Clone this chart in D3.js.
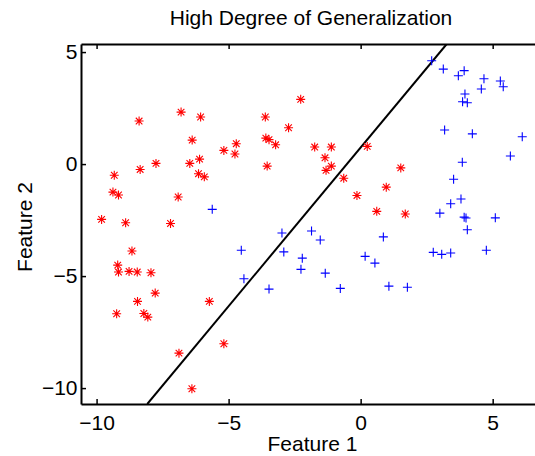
<!DOCTYPE html>
<html>
<head>
<meta charset="utf-8">
<script src="https://cdn.jsdelivr.net/npm/d3@7"></script>
<style>
  body { margin: 0; background: #fff; }
  text { font-family: 'Liberation Sans', Arial, sans-serif; fill: #000; }
</style>
</head>
<body>
<svg width="535" height="456"></svg>
<script>
// class 1 (red asterisks)
var redX = [-8.39, -6.80, -6.38, -9.33, -8.35, -7.75, -6.47, -9.38, -9.17, -6.91,
  -9.81, -8.90, -7.20, -2.27, -6.06, -3.61, -2.73, -3.59, -3.47, -3.22,
  -4.71, -5.18, -4.76, -6.10, -3.54, -6.14, -5.92, -1.74, -1.11, 0.25,
  -1.35, -1.11, -1.31, -0.64, 1.52, 0.97, -0.14, 0.61, 1.69, -8.66,
  -9.20, -9.17, -8.77, -8.46, -7.94, -7.78, -8.45, -9.24, -8.21, -8.06,
  -6.88, -6.39, -5.73, -5.18];
var redY = [1.92, 2.32, 1.07, -0.50, -0.24, 0.03, 0.03, -1.25, -1.38, -1.47,
  -2.47, -2.62, -2.65, 2.89, 2.10, 2.10, 1.62, 1.16, 1.09, 0.86,
  0.91, 0.61, 0.45, 0.22, -0.09, -0.43, -0.57, 0.76, 0.76, 0.79,
  0.28, -0.09, -0.28, -0.63, -0.17, -1.03, -1.40, -2.11, -2.23, -3.88,
  -4.51, -4.82, -4.79, -4.82, -4.85, -5.76, -6.13, -6.68, -6.67, -6.83,
  -8.44, -10.03, -6.13, -8.02];

// class 2 (blue plus signs)
var blueX = [2.69, 3.13, 3.70, 3.92, 4.67, 4.57, 5.29, 5.40, 3.95, 3.86,
  4.04, 3.18, 4.23, 6.12, 5.67, 3.85, 3.52, 3.80, 3.41, 3.00,
  3.92, 3.99, 5.10, 4.04, 2.75, 3.07, 3.41, 4.76, -1.86, -1.53,
  0.86, 0.17, 0.54, -1.34, -0.77, 1.07, 1.77, -4.52, -2.98, -2.91,
  -2.21, -2.26, -4.42, -3.47, -5.62];
var blueY = [4.61, 4.24, 3.94, 4.17, 3.81, 3.35, 3.71, 3.45, 3.13, 2.78,
  2.74, 1.52, 1.35, 1.22, 0.36, 0.08, -0.68, -1.56, -1.77, -2.19,
  -2.37, -2.41, -2.40, -2.93, -3.94, -4.03, -3.97, -3.85, -2.99, -3.39,
  -3.25, -4.12, -4.42, -4.87, -5.55, -5.45, -5.50, -3.85, -3.08, -3.92,
  -4.20, -4.70, -5.12, -5.58, -2.02];

// decision boundary
var boundaryX = [-8.08, 3.26];
var boundaryY = [-10.71, 5.36];

var xTicks = [-10, -5, 0, 5];
var yTicks = [-10, -5, 0, 5];
var titleText = 'High Degree of Generalization';
var xLabel = 'Feature 1';
var yLabel = 'Feature 2';

var svg = d3.select('svg');
var plotLeft = 81, plotTop = 44, plotRight = 541, plotBottom = 404;

var x = d3.scaleLinear().domain([-10.59, 6.83]).range([plotLeft, plotRight]);
var y = d3.scaleLinear().domain([-10.71, 5.36]).range([plotBottom, plotTop]);

svg.append('clipPath').attr('id', 'plotclip')
  .append('rect')
  .attr('x', plotLeft).attr('y', plotTop)
  .attr('width', plotRight - plotLeft).attr('height', plotBottom - plotTop);

var plot = svg.append('g').attr('clip-path', 'url(#plotclip)');

// boundary line
plot.append('path')
  .datum(d3.zip(boundaryX, boundaryY))
  .attr('fill', 'none')
  .attr('stroke', '#000')
  .attr('stroke-width', 2)
  .attr('d', d3.line().x(function(d) { return x(d[0]); }).y(function(d) { return y(d[1]); }));

// red asterisks
var r = 4.5, rd = 3.3;
var star = 'M' + (-r) + ',0H' + r + 'M0,' + (-r) + 'V' + r +
  'M' + (-rd) + ',' + (-rd) + 'L' + rd + ',' + rd +
  'M' + (-rd) + ',' + rd + 'L' + rd + ',' + (-rd);
plot.append('g').selectAll('path')
  .data(d3.zip(redX, redY))
  .enter().append('path')
  .attr('transform', function(d) { return 'translate(' + x(d[0]) + ',' + y(d[1]) + ')'; })
  .attr('d', star)
  .attr('fill', 'none')
  .attr('stroke', '#ff0000')
  .attr('stroke-width', 1.1);

// blue plus signs
var plus = 'M' + (-r) + ',0H' + r + 'M0,' + (-r) + 'V' + r;
plot.append('g').selectAll('path')
  .data(d3.zip(blueX, blueY))
  .enter().append('path')
  .attr('transform', function(d) { return 'translate(' + x(d[0]) + ',' + y(d[1]) + ')'; })
  .attr('d', plus)
  .attr('fill', 'none')
  .attr('stroke', '#0000ff')
  .attr('stroke-width', 1.1);

// axes, ticks pointing inward
function styleAxis(g) {
  g.select('.domain').attr('stroke-width', 2);
  g.selectAll('.tick line').attr('stroke-width', 1.5);
  g.selectAll('.tick text')
    .attr('font-size', 21)
    .attr('font-family', "'Liberation Sans', Arial, sans-serif");
}

svg.append('g')
  .attr('transform', 'translate(0,' + plotBottom + ')')
  .call(d3.axisBottom(x).tickValues(xTicks).tickSize(-5).tickSizeOuter(0).tickPadding(11.5))
  .call(styleAxis);

svg.append('g')
  .attr('transform', 'translate(0,' + plotTop + ')')
  .call(d3.axisTop(x).tickValues(xTicks).tickSize(-5).tickSizeOuter(0).tickFormat(''))
  .call(styleAxis);

svg.append('g')
  .attr('transform', 'translate(' + plotLeft + ',0)')
  .call(d3.axisLeft(y).tickValues(yTicks).tickSize(-5).tickSizeOuter(0).tickPadding(3.5))
  .call(styleAxis);

svg.append('g')
  .attr('transform', 'translate(' + plotRight + ',0)')
  .call(d3.axisRight(y).tickValues(yTicks).tickSize(-5).tickSizeOuter(0).tickFormat(''))
  .call(styleAxis);

// title and labels
svg.append('text')
  .attr('x', (plotLeft + plotRight) / 2).attr('y', 25)
  .attr('text-anchor', 'middle')
  .attr('font-size', 21)
  .text(titleText);

svg.append('text')
  .attr('x', (plotLeft + plotRight) / 2 + 1.5).attr('y', 451)
  .attr('text-anchor', 'middle')
  .attr('font-size', 21)
  .text(xLabel);

svg.append('text')
  .attr('transform', 'translate(32,' + ((plotTop + plotBottom) / 2 + 3) + ') rotate(-90)')
  .attr('text-anchor', 'middle')
  .attr('font-size', 21)
  .text(yLabel);
</script>
</body>
</html>
